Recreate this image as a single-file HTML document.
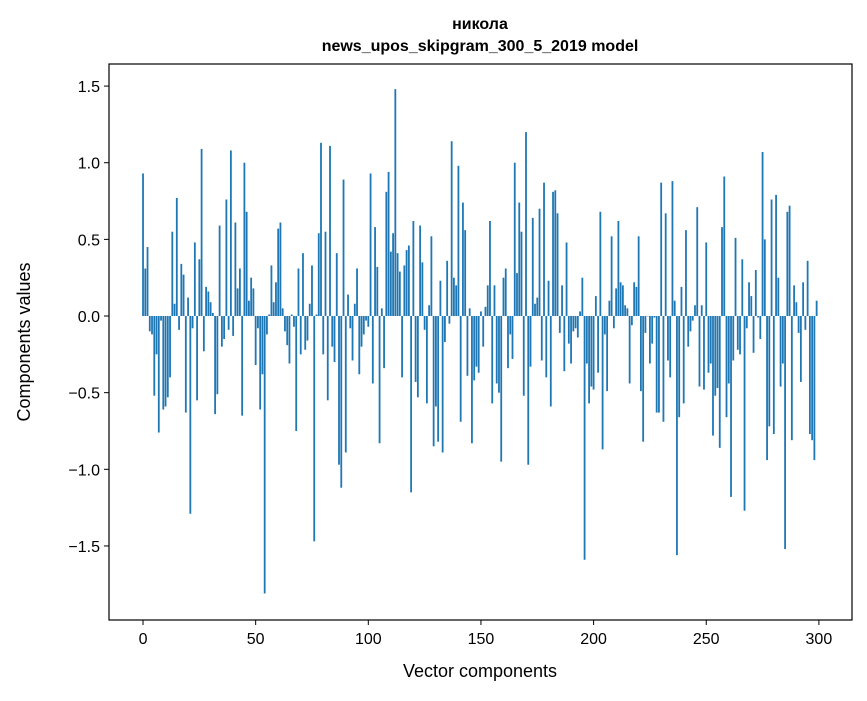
<!DOCTYPE html>
<html><head><meta charset="utf-8"><style>
body{margin:0;background:#fff;}
svg text{font-family:"Liberation Sans","DejaVu Sans",sans-serif;fill:#000;}
</style></head><body>
<svg id="chart" width="867" height="696" viewBox="0 0 867 696" xmlns="http://www.w3.org/2000/svg">
<rect width="867" height="696" fill="#fff"/>
<text x="480" y="29" font-size="16" font-weight="bold" text-anchor="middle">никола</text>
<text x="480" y="51" font-size="16" font-weight="bold" text-anchor="middle">news_upos_skipgram_300_5_2019 model</text>
<g id="bars"></g>
<g id="axes"></g>
<text x="480" y="677" font-size="18" text-anchor="middle">Vector components</text>
<text x="0" y="0" font-size="18" text-anchor="middle" transform="translate(30,342) rotate(-90)">Components values</text>
</svg>
<script>
const values = [
0.93,0.31,0.45,-0.10,-0.12,-0.52,-0.25,-0.76,-0.03,-0.61,
-0.59,-0.53,-0.40,0.55,0.08,0.77,-0.09,0.34,0.27,-0.63,
0.12,-1.29,-0.08,0.48,-0.55,0.37,1.09,-0.23,0.19,0.16,
0.09,0.02,-0.64,-0.51,0.59,-0.20,-0.15,0.76,-0.09,1.08,
-0.13,0.61,0.18,0.31,-0.65,1.00,0.68,0.10,0.25,0.18,
-0.32,-0.08,-0.61,-0.38,-1.81,-0.12,0.01,0.33,0.09,0.22,
0.57,0.61,0.05,-0.10,-0.19,-0.31,0.01,-0.07,-0.75,0.31,
-0.25,0.41,-0.22,-0.16,0.08,0.33,-1.47,0.01,0.54,1.13,
-0.25,0.55,-0.55,1.11,-0.20,-0.30,0.41,-0.97,-1.12,0.89,
-0.89,0.14,-0.08,-0.29,0.08,0.31,-0.38,-0.20,-0.12,-0.03,
-0.07,0.93,-0.44,0.58,0.32,-0.83,0.05,-0.34,0.81,0.94,
0.42,0.54,1.48,0.41,0.29,-0.40,0.33,0.43,0.46,-1.15,
0.62,-0.43,-0.53,0.59,0.35,-0.09,-0.57,0.07,0.52,-0.85,
-0.59,-0.82,0.23,-0.89,-0.17,0.36,-0.05,1.14,0.25,0.20,
0.98,-0.69,0.74,0.56,-0.39,0.05,-0.83,-0.42,-0.33,-0.37,
0.03,-0.20,0.06,0.20,0.62,-0.57,0.20,-0.44,-0.50,-0.95,
0.25,0.31,-0.34,-0.12,-0.28,1.00,0.28,0.74,0.55,-0.52,
1.20,-0.97,-0.33,0.64,0.08,0.12,0.70,-0.29,0.87,-0.40,
0.23,-0.59,0.81,0.82,0.67,-0.11,0.20,-0.36,0.48,-0.18,
-0.31,-0.10,-0.08,-0.14,0.03,0.25,-1.59,-0.31,-0.57,-0.46,
-0.48,0.13,-0.37,0.68,-0.87,-0.12,-0.49,0.10,0.52,-0.08,
0.18,0.62,0.22,0.20,0.07,0.05,-0.44,-0.06,0.22,0.19,
0.52,-0.49,-0.82,-0.11,0.00,-0.31,-0.18,-0.01,-0.63,-0.63,
0.87,-0.69,0.67,-0.29,-0.40,0.88,0.10,-1.56,-0.66,0.19,
-0.57,0.56,-0.20,-0.10,-0.03,0.07,0.71,-0.46,0.07,-0.48,
0.48,-0.37,-0.31,-0.78,-0.52,-0.47,-0.86,0.58,0.91,-0.66,
-0.44,-1.18,-0.29,0.51,-0.22,-0.25,0.37,-1.27,-0.08,0.22,
0.13,-0.24,0.30,-0.01,-0.15,1.07,0.50,-0.94,-0.72,0.76,
-0.77,0.79,0.25,-0.46,-0.31,-1.52,0.68,0.72,-0.81,0.20,
0.09,-0.11,-0.43,0.22,-0.09,0.36,-0.77,-0.81,-0.94,0.10
];
const xTicks = [0,50,100,150,200,250,300];
const yTicks = [-1.5,-1.0,-0.5,0.0,0.5,1.0,1.5];
const yTickLabels = ["\u22121.5","\u22121.0","\u22120.5","0.0","0.5","1.0","1.5"];

const L=109,R=852,T=64,B=620;
const xMin=-15.1,xMax=314.7,yMin=-1.983,yMax=1.644;
const sx=v=>L+(v-xMin)/(xMax-xMin)*(R-L);
const sy=v=>T+(yMax-v)/(yMax-yMin)*(B-T);
const NS="http://www.w3.org/2000/svg";
const bars=document.getElementById('bars');
values.forEach((v,i)=>{
  const r=document.createElementNS(NS,'rect');
  const x0=sx(i-0.4),x1=sx(i+0.4);
  const y0=sy(Math.max(v,0)),y1=sy(Math.min(v,0));
  r.setAttribute('x',x0);r.setAttribute('width',x1-x0);
  r.setAttribute('y',y0);r.setAttribute('height',Math.max(y1-y0,0.3));
  r.setAttribute('fill','#1f77b4');
  
  
  bars.appendChild(r);
});
const axes=document.getElementById('axes');
const frame=document.createElementNS(NS,'rect');
frame.setAttribute('x',L);frame.setAttribute('y',T);frame.setAttribute('width',R-L);frame.setAttribute('height',B-T);
frame.setAttribute('fill','none');frame.setAttribute('stroke','#000');frame.setAttribute('stroke-width','1.2');


axes.appendChild(frame);
xTicks.forEach(t=>{
  const x=sx(t);
  const l=document.createElementNS(NS,'line');
  l.setAttribute('x1',x);l.setAttribute('x2',x);l.setAttribute('y1',B);l.setAttribute('y2',B+5);l.setAttribute('stroke','#000');
  
  
  axes.appendChild(l);
  const tx=document.createElementNS(NS,'text');
  tx.setAttribute('x',x);tx.setAttribute('y',B+24);tx.setAttribute('font-size','16');tx.setAttribute('text-anchor','middle');
  tx.textContent=t;
  
  
  axes.appendChild(tx);
});
yTicks.forEach((t,i)=>{
  const y=sy(t);
  const l=document.createElementNS(NS,'line');
  l.setAttribute('x1',L-5);l.setAttribute('x2',L);l.setAttribute('y1',y);l.setAttribute('y2',y);l.setAttribute('stroke','#000');
  
  
  axes.appendChild(l);
  const tx=document.createElementNS(NS,'text');
  tx.setAttribute('x',L-9);tx.setAttribute('y',y+6);tx.setAttribute('font-size','16');tx.setAttribute('text-anchor','end');
  tx.textContent=yTickLabels[i];
  
  
  axes.appendChild(tx);
});
</script>
</body></html>
